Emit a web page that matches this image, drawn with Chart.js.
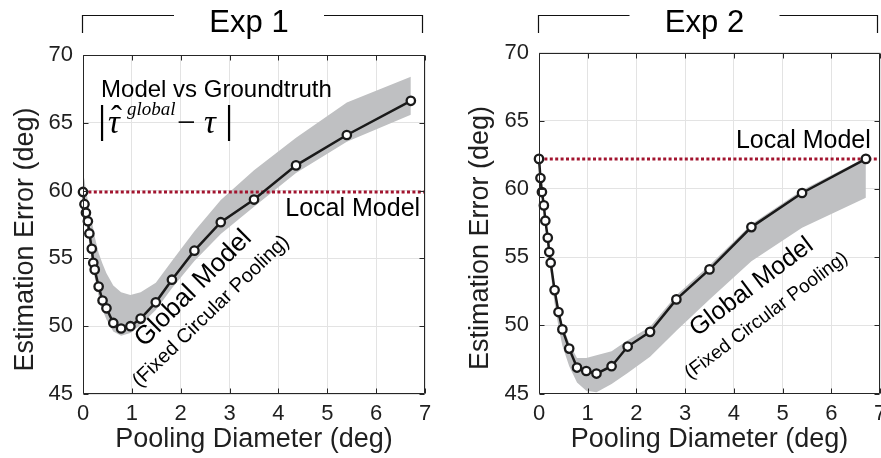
<!DOCTYPE html>
<html>
<head>
<meta charset="utf-8">
<script src="https://cdn.jsdelivr.net/npm/chart.js@4.4.1/dist/chart.umd.min.js"></script>
<style>
    html, body { margin: 0; padding: 0; background: #fff; overflow: hidden; }
    #wrap { position: relative; width: 881px; height: 458px; overflow: hidden; }
    .box { position: absolute; top: 0; height: 458px; }
    #box1 { left: 0; width: 440px; }
    #box2 { left: 440px; width: 460px; }
</style>
</head>
<body>
<div id="wrap">
    <div class="box" id="box1"><canvas id="exp1Chart"></canvas></div>
    <div class="box" id="box2"><canvas id="exp2Chart"></canvas></div>
</div>
<script>
// pooling diameters (deg), same set in both experiments
const poolDiameter = [0, 0.03, 0.06, 0.1, 0.13, 0.18, 0.21, 0.24, 0.32, 0.4, 0.48, 0.62, 0.78, 0.97, 1.18, 1.49, 1.82, 2.28, 2.82, 3.5, 4.36, 5.4, 6.71];

// Exp 1
const exp1Error = [59.9, 59.0, 58.36, 57.74, 56.84, 55.71, 54.68, 54.17, 52.92, 51.89, 51.32, 50.24, 49.83, 50.0, 50.56, 51.76, 53.43, 55.57, 57.67, 59.34, 61.86, 64.1, 66.62];
const exp1Upper = [61.3, 60.8, 60.0, 59.3, 58.5, 57.7, 57.2, 56.6, 55.4, 54.6, 53.9, 53.0, 52.5, 52.3, 52.5, 53.2, 54.8, 57.0, 59.3, 61.5, 63.9, 66.5, 68.4];
const exp1Lower = [59.4, 58.6, 57.8, 57.0, 56.0, 55.0, 54.2, 53.6, 52.2, 51.2, 50.5, 49.6, 49.3, 49.5, 50.1, 51.2, 52.8, 54.8, 56.8, 58.8, 61.3, 63.6, 65.6];
const exp1Local = 59.9;

// Exp 2
const exp2Error = [62.2, 60.8, 59.77, 58.79, 57.67, 56.42, 55.37, 54.59, 52.58, 50.97, 49.7, 48.29, 46.9, 46.65, 46.46, 47.0, 48.44, 49.52, 51.9, 54.1, 57.2, 59.7, 62.2];
const exp2Upper = [62.4, 61.0, 60.0, 59.0, 57.9, 56.7, 55.7, 54.9, 52.9, 51.3, 50.0, 48.7, 47.6, 47.6, 47.8, 48.1, 48.9, 49.9, 52.2, 54.4, 57.4, 59.9, 62.3];
const exp2Lower = [62.0, 60.4, 59.3, 58.3, 57.1, 55.7, 54.6, 53.8, 51.6, 49.9, 48.5, 47.0, 45.8, 45.2, 45.1, 45.7, 46.5, 47.7, 49.6, 51.9, 54.7, 57.15, 59.35];
const exp2Local = 62.2;

const xTicks = [0, 1, 2, 3, 4, 5, 6, 7];
const yTicks = [45, 50, 55, 60, 65, 70];

Chart.defaults.font.family = '"Liberation Sans", Arial, Helvetica, sans-serif';
Chart.defaults.color = "#1f1f1f";

const toPoints = (ys) => poolDiameter.map((d, i) => ({ x: d, y: ys[i] }));

// |tau-hat^global - tau|
function drawFormula(ctx, x, y) {
    ctx.save();
    ctx.fillStyle = "#000";
    ctx.strokeStyle = "#000";
    ctx.lineWidth = 2.2;
    ctx.beginPath();
    ctx.moveTo(x, y - 28);
    ctx.lineTo(x, y + 8);
    ctx.moveTo(x + 127, y - 28);
    ctx.lineTo(x + 127, y + 8);
    ctx.stroke();
    ctx.textAlign = "left";
    ctx.textBaseline = "alphabetic";
    ctx.font = 'italic 33px "Liberation Serif", "DejaVu Serif", serif';
    ctx.fillText("τ", x + 6, y);
    ctx.fillText("τ", x + 102, y);
    ctx.font = '33px "Liberation Serif", "DejaVu Serif", serif';
    ctx.fillText("ˆ", x + 9, y - 4);
    ctx.fillText("−", x + 75, y);
    ctx.font = 'italic 19px "Liberation Serif", "DejaVu Serif", serif';
    ctx.fillText("global", x + 25, y - 18);
    ctx.restore();
}

// MATLAB-ish box: border, inward ticks, bracket title, text notes
const framePlugin = {
    id: "frame",
    afterDraw(chart, args, opts) {
        const ctx = chart.ctx;
        const xs = chart.scales.x;
        const ys = chart.scales.y;
        const { left, right, top, bottom } = chart.chartArea;
        ctx.save();
        ctx.strokeStyle = "#262626";
        ctx.lineWidth = 1;
        ctx.beginPath();
        const l = Math.round(left) + 0.5, r = Math.round(right) - 0.5;
        const t = Math.round(top) + 0.5, b = Math.round(bottom) - 0.5;
        ctx.rect(l, t, r - l, b - t);
        xs.ticks.forEach((tk) => {
            const px = Math.round(xs.getPixelForValue(tk.value)) + 0.5;
            ctx.moveTo(px, b);
            ctx.lineTo(px, b - 5);
            ctx.moveTo(px, t);
            ctx.lineTo(px, t + 5);
        });
        ys.ticks.forEach((tk) => {
            const py = Math.round(ys.getPixelForValue(tk.value)) + 0.5;
            ctx.moveTo(l, py);
            ctx.lineTo(l + 5, py);
            ctx.moveTo(r, py);
            ctx.lineTo(r - 5, py);
        });
        ctx.stroke();

        // bracket over the panel
        const mid = (left + right) / 2 - 5;
        ctx.strokeStyle = "#111";
        ctx.lineWidth = 1.2;
        ctx.beginPath();
        ctx.moveTo(l - 1, 33);
        ctx.lineTo(l - 1, 15.5);
        ctx.lineTo(mid - 75, 15.5);
        ctx.moveTo(mid + 75, 15.5);
        ctx.lineTo(r - 2, 15.5);
        ctx.lineTo(r - 2, 33);
        ctx.stroke();
        ctx.fillStyle = "#000";
        ctx.textAlign = "center";
        ctx.textBaseline = "alphabetic";
        ctx.font = '31px "Liberation Sans", Arial, sans-serif';
        ctx.fillText(opts.title, mid, 32);

        (opts.notes || []).forEach((n) => {
            ctx.save();
            ctx.translate(xs.getPixelForValue(n.x), ys.getPixelForValue(n.y));
            ctx.rotate(((n.angle || 0) * Math.PI) / 180);
            ctx.font = n.size + 'px "Liberation Sans", Arial, sans-serif';
            ctx.textAlign = n.align || "left";
            ctx.fillStyle = "#000";
            ctx.fillText(n.text, 0, 0);
            ctx.restore();
        });

        if (opts.formula) {
            drawFormula(ctx, xs.getPixelForValue(opts.formula.x), ys.getPixelForValue(opts.formula.y));
        }
        ctx.restore();
    },
};

const createPanel = (id, cfg) => {
    return new Chart(document.getElementById(id).getContext("2d"), {
        type: "line",
        data: {
            datasets: [
                {
                    data: toPoints(cfg.error),
                    borderColor: "#1a1a1a",
                    borderWidth: 2.5,
                    pointRadius: 4.2,
                    pointBorderWidth: 2.3,
                    pointBackgroundColor: "#fff",
                    pointBorderColor: "#1a1a1a",
                    tension: 0,
                    clip: false,
                    order: 0,
                },
                {
                    data: [
                        { x: xTicks[0], y: cfg.local },
                        { x: xTicks[xTicks.length - 1], y: cfg.local },
                    ],
                    borderColor: "#A2142F",
                    borderWidth: 3,
                    borderDash: [3, 2.4],
                    pointRadius: 0,
                    order: 1,
                },
                {
                    data: toPoints(cfg.upper),
                    borderColor: "rgba(0,0,0,0)",
                    backgroundColor: "#bfc0c2",
                    fill: "+1",
                    pointRadius: 0,
                    order: 2,
                },
                {
                    data: toPoints(cfg.lower),
                    borderColor: "rgba(0,0,0,0)",
                    pointRadius: 0,
                    fill: false,
                    order: 3,
                },
            ],
        },
        options: {
            responsive: true,
            maintainAspectRatio: false,
            animation: false,
            events: [],
            layout: { padding: cfg.padding },
            scales: {
                x: {
                    type: "linear",
                    min: xTicks[0],
                    max: xTicks[xTicks.length - 1],
                    afterBuildTicks: (s) => { s.ticks = xTicks.map((v) => ({ value: v })); },
                    ticks: { font: { size: 22 }, padding: 7, maxRotation: 0 },
                    grid: { color: "#e3e3e3", drawTicks: false },
                    border: { display: false },
                    title: {
                        display: true,
                        text: "Pooling Diameter (deg)",
                        font: { size: 27 },
                        padding: { top: 0, bottom: 1 },
                    },
                    afterFit: (s) => { s.height = 63; },
                },
                y: {
                    type: "linear",
                    min: yTicks[0],
                    max: yTicks[yTicks.length - 1],
                    afterBuildTicks: (s) => { s.ticks = yTicks.map((v) => ({ value: v })); },
                    ticks: { font: { size: 22 }, padding: 10 },
                    grid: { color: "#e3e3e3", drawTicks: false },
                    border: { display: false },
                    title: {
                        display: true,
                        // trailing spaces nudge the rotated title down a bit, like the original
                        text: "Estimation Error (deg)    ",
                        font: { size: 27 },
                        padding: { top: cfg.yTitlePad, bottom: 0 },
                    },
                    afterFit: (s) => { s.width = cfg.yWidth; },
                },
            },
            plugins: {
                legend: { display: false },
                tooltip: { enabled: false },
                frame: {
                    title: cfg.title,
                    notes: cfg.notes,
                    formula: cfg.formula,
                },
            },
        },
        plugins: [framePlugin],
    });
};

const exp1Chart = createPanel("exp1Chart", {
    title: "Exp 1",
    error: exp1Error,
    upper: exp1Upper,
    lower: exp1Lower,
    local: exp1Local,
    padding: { left: 0, right: 15, top: 55, bottom: 1 },
    yWidth: 83,
    yTitlePad: 9,
    notes: [
        { text: "Model vs Groundtruth", x: 0.37, y: 66.9, size: 24 },
        { text: "Local Model", x: 6.9, y: 58.1, size: 25, align: "right" },
        { text: "Global Model", x: 2.36, y: 52.4, size: 26, angle: -45, align: "center" },
        { text: "(Fixed Circular Pooling)", x: 2.7, y: 50.8, size: 20, angle: -44, align: "center" },
    ],
    formula: { x: 0.39, y: 64.25 },
});

const exp2Chart = createPanel("exp2Chart", {
    title: "Exp 2",
    error: exp2Error,
    upper: exp2Upper,
    lower: exp2Lower,
    local: exp2Local,
    padding: { left: 0, right: 20, top: 52.5, bottom: 1.5 },
    yWidth: 99,
    yTitlePad: 24,
    notes: [
        { text: "Local Model", x: 6.81, y: 63.0, size: 25, align: "right" },
        { text: "Global Model", x: 4.45, y: 52.4, size: 25, angle: -37, align: "center" },
        { text: "(Fixed Circular Pooling)", x: 4.73, y: 50.4, size: 19, angle: -37, align: "center" },
    ],
});
</script>
</body>
</html>
